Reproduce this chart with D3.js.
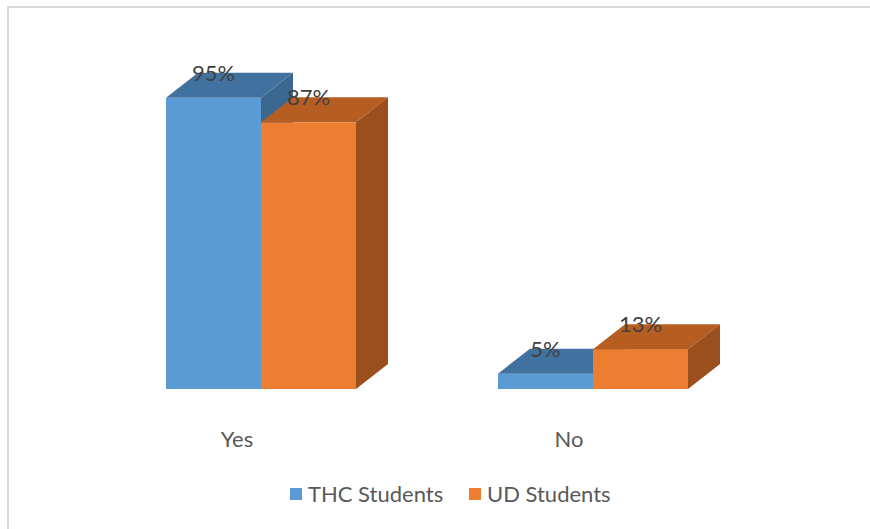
<!DOCTYPE html>
<html><head><meta charset="utf-8">
<script src="https://cdn.jsdelivr.net/npm/d3@7/dist/d3.min.js"></script>
<style>body{margin:0;background:#fff}svg{display:block}text{font-family:Lato,"Open Sans",sans-serif}</style>
</head><body>
<script>
const categories = ["Yes", "No"];
const seriesNames = ["THC Students", "UD Students"];
const thcValues = [95, 5];
const udValues = [87, 13];
const colors = {
  "THC Students": {front: "#5B9BD5", top: "#41729F", side: "#3A6891"},
  "UD Students": {front: "#ED7D31", top: "#B65E22", side: "#9A4F1D"}
};

const W = 870, H = 529;
const svg = d3.select("body").append("svg").attr("width", W).attr("height", H);

svg.append("rect").attr("x", 8).attr("y", 7).attr("width", 1000).attr("height", 700)
  .attr("fill", "#fff").attr("stroke", "#d9d9d9").attr("stroke-width", 2);

const y = d3.scaleLinear().domain([0, 100]).range([389, 389 - 306.5]);
const x0 = d3.scaleBand().domain(categories).range([100, 764]).paddingInner(0).paddingOuter(0);
const groupOffset = 66, barW = 95;
const x1 = d3.scaleBand().domain(seriesNames).range([0, barW * 2]);
const dx = 32, dy = -25;

const data = categories.map((c, i) => ({
  cat: c,
  vals: [{s: seriesNames[0], v: thcValues[i]}, {s: seriesNames[1], v: udValues[i]}]
}));

data.forEach(d => {
  const g = svg.append("g");
  d.vals.forEach(b => {
    const xl = x0(d.cat) + groupOffset + x1(b.s);
    const xr = xl + x1.bandwidth();
    const yt = y(b.v), yb = y(0);
    const c = colors[b.s];
    g.append("rect").attr("x", xl).attr("y", yt).attr("width", xr - xl).attr("height", yb - yt).attr("fill", c.front);
    g.append("path").attr("d", `M${xl},${yt}L${xl+dx},${yt+dy}L${xr+dx},${yt+dy}L${xr},${yt}Z`).attr("fill", c.top);
    g.append("path").attr("d", `M${xr},${yt}L${xr+dx},${yt+dy}L${xr+dx},${yb+dy}L${xr},${yb}Z`).attr("fill", c.side);
  });
  d.vals.forEach(b => {
    const xl = x0(d.cat) + groupOffset + x1(b.s);
    svg.append("text").attr("x", xl + x1.bandwidth() / 2).attr("y", y(b.v) + dy)
      .attr("dy", "0.36em").attr("text-anchor", "middle").attr("font-size", 22).attr("fill", "#404040")
      .text(b.v + "%");
  });
  svg.append("text").attr("x", x0(d.cat) + groupOffset + 71).attr("y", 447)
    .attr("text-anchor", "middle").attr("font-size", 22).attr("fill", "#595959").text(d.cat);
});

const legendPos = [290, 469];
seriesNames.forEach((s, i) => {
  svg.append("rect").attr("x", legendPos[i]).attr("y", 488).attr("width", 12).attr("height", 12).attr("fill", colors[s].front);
  svg.append("text").attr("x", legendPos[i] + 18).attr("y", 502).attr("font-size", 22).attr("fill", "#595959").text(s);
});
</script>
</body></html>
